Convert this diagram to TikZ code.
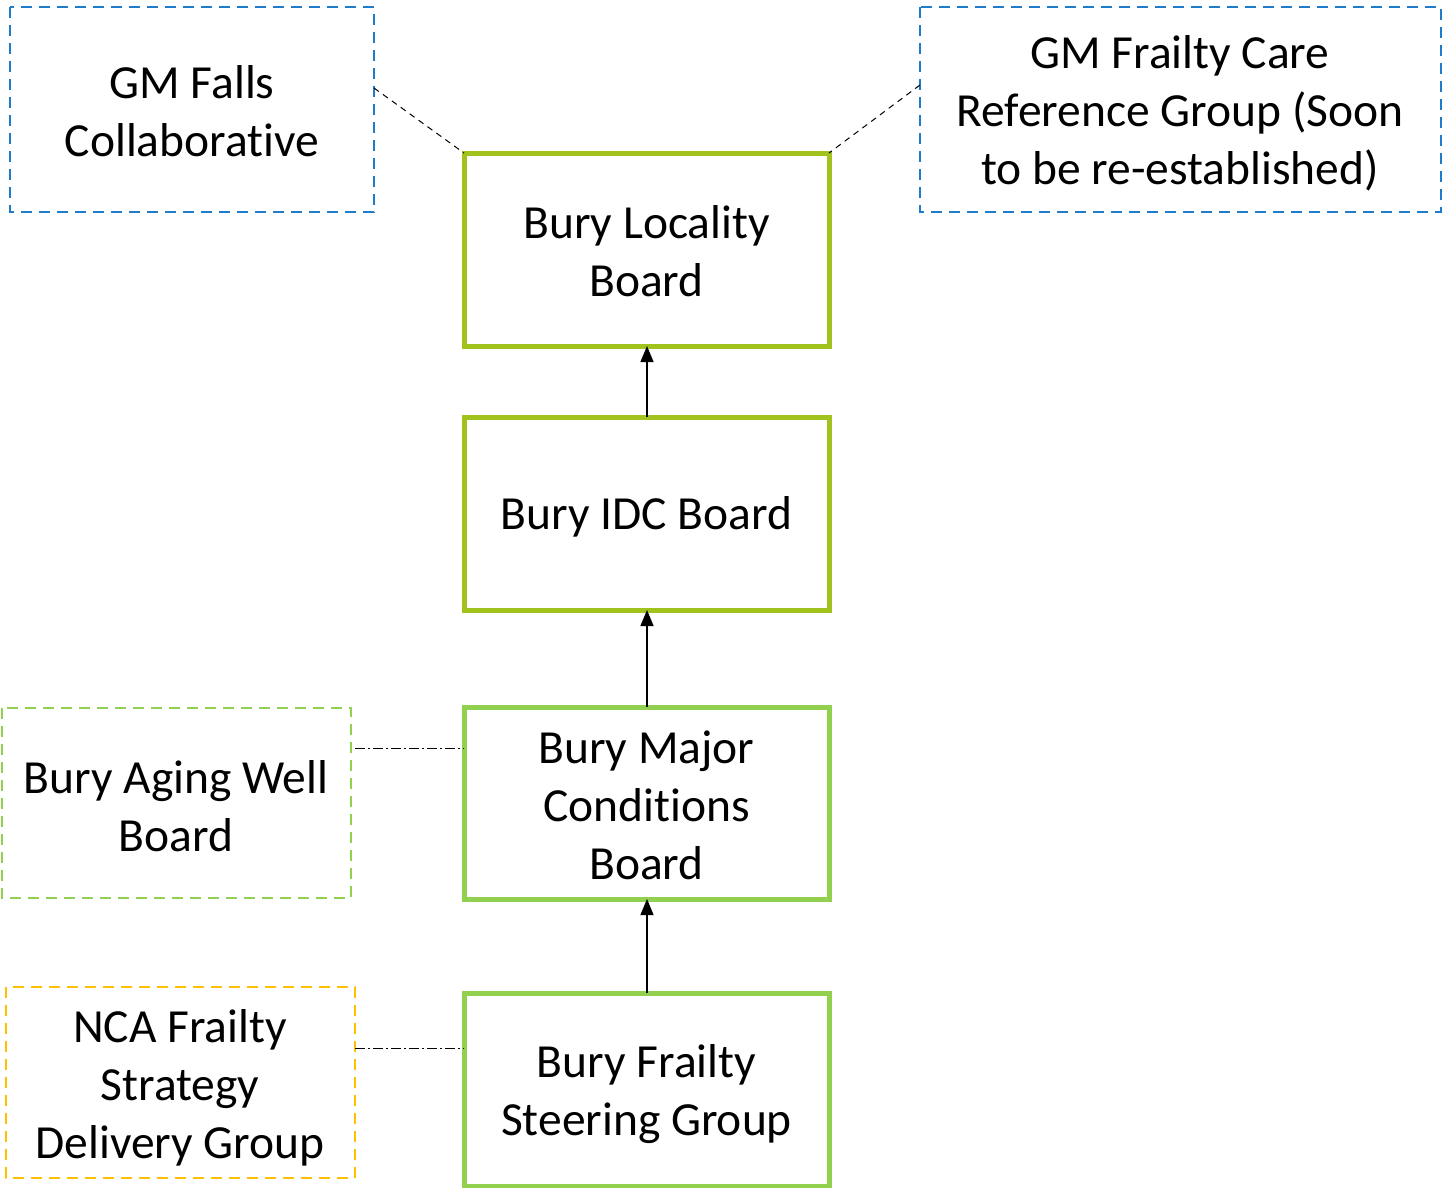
\documentclass[tikz,border=0pt]{standalone}
\usepackage{fontspec}
\setmainfont[Ligatures={NoCommon}]{Carlito}
\usetikzlibrary{arrows.meta}
\definecolor{gmblue}{HTML}{1F7CC9}
\definecolor{olive}{HTML}{A2C21E}
\definecolor{lgreen}{HTML}{92D050}
\definecolor{amber}{HTML}{FFC000}
\tikzset{
  box/.style={draw, line width=#1},
  solidbox/.style={box=5pt},
  dashbox/.style={box=2.6pt, dash pattern=on 11pt off 7pt},
  lbl/.style={font=\fontsize{47.5}{58}\selectfont, align=center},
  link/.style={draw=black, line width=1pt, dash pattern=on 6pt off 5pt},
  dotlink/.style={draw=black, line width=1pt, dash pattern=on 10pt off 3pt on 2pt off 3pt},
  up/.style={draw=black, line width=1.2pt, -{Triangle[length=16pt,width=13pt]}}
}
\begin{document}
\begin{tikzpicture}[x=1pt,y=-1pt]
\useasboundingbox (0,0) rectangle (1445,1188);
% boxes
\draw[dashbox, gmblue] (10,7) rectangle (374,212);
\node[lbl] (falls) at (192,111) {GM Falls\\Collaborative};
\coordinate (fallsR) at (374,88);

\draw[dashbox, gmblue] (920,7) rectangle (1441,212);
\node[lbl] (care) at (1180,113) {GM Frailty Care\\Reference Group (Soon\\to be re-established)};
\coordinate (careL) at (920,85);

\draw[solidbox, olive] (464,153) rectangle (829,346);
\node[lbl] (loc) at (646.5,251) {Bury Locality\\Board};
\coordinate (locTL) at (464,153); \coordinate (locTR) at (829,153);
\coordinate (locB) at (647,346);

\draw[solidbox, olive] (464,417) rectangle (829,610);
\node[lbl] (idc) at (646.5,517) {Bury IDC Board};
\coordinate (idcT) at (647,417); \coordinate (idcB) at (647,610);

\draw[solidbox, lgreen] (464,707) rectangle (829,899);
\node[lbl] (maj) at (646.5,805) {Bury Major\\Conditions\\Board};
\coordinate (majT) at (647,707); \coordinate (majB) at (647,899);
\coordinate (majL) at (464,748);

\draw[solidbox, lgreen] (464,993) rectangle (829,1186);
\node[lbl] (steer) at (646.5,1094) {Bury Frailty\\Steering Group};
\coordinate (steerT) at (647,993); \coordinate (steerL) at (464,1048);

\draw[dashbox, lgreen] (2,708) rectangle (351,898);
\node[lbl] (aging) at (176,806) {Bury Aging Well\\Board};
\coordinate (agingR) at (355,748);

\draw[dashbox, amber] (6,987) rectangle (355,1178);
\node[lbl] (nca) at (180,1088) {NCA Frailty\\Strategy\\Delivery Group};
\coordinate (ncaR) at (355,1048);

% connectors
\draw[link] (fallsR) -- (locTL);
\draw[link] (careL) -- (locTR);
\draw[dotlink] (agingR) -- (majL);
\draw[dotlink] (ncaR) -- (steerL);
\draw[up] (idcT) -- (locB);
\draw[up] (majT) -- (idcB);
\draw[up] (steerT) -- (majB);
\end{tikzpicture}
\end{document}
